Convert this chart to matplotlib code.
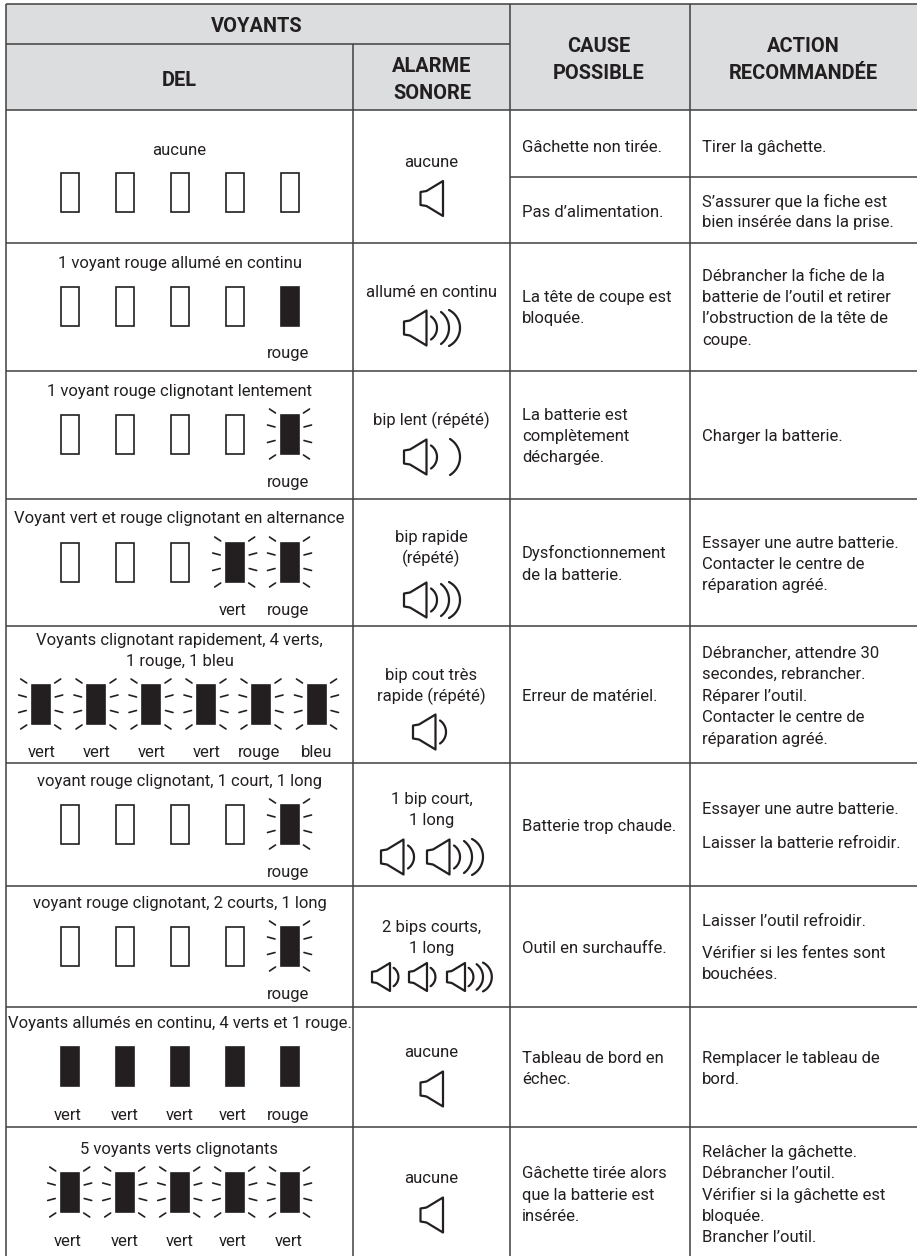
import matplotlib
matplotlib.use("Agg")
import matplotlib.pyplot as plt
from matplotlib.patches import Rectangle, Polygon
import numpy as np

FW, FH = 917, 1256
INK = "#231f20"
GRID = "#404040"
HEAD = "#dcdddf"
FONT = "Roboto"
BODY = 12.0
TITLE = 14.4

# ---- content ----
led_titles = [["aucune"],
              ["1 voyant rouge allumé en continu"],
              ["1 voyant rouge clignotant lentement"],
              ["Voyant vert et rouge clignotant en alternance"],
              ["Voyants clignotant rapidement, 4 verts,", "1 rouge, 1 bleu"],
              ["voyant rouge clignotant, 1 court, 1 long"],
              ["voyant rouge clignotant, 2 courts, 1 long"],
              ["Voyants allumés en continu, 4 verts et 1 rouge."],
              ["5 voyants verts clignotants"]]
led_states = ["ooooo", "ooooS", "ooooB", "oooBB", "BBBBBB", "ooooB", "ooooB", "SSSSS", "BBBBB"]
led_labels = [["", "", "", "", ""],
              ["", "", "", "", "rouge"],
              ["", "", "", "", "rouge"],
              ["", "", "", "vert", "rouge"],
              ["vert", "vert", "vert", "vert", "rouge", "bleu"],
              ["", "", "", "", "rouge"],
              ["", "", "", "", "rouge"],
              ["vert", "vert", "vert", "vert", "rouge"],
              ["vert", "vert", "vert", "vert", "vert"]]
alarm_texts = [["aucune"], ["allumé en continu"], ["bip lent (répété)"],
               ["bip rapide", "(répété)"], ["bip cout très", "rapide (répété)"],
               ["1 bip court,", "1 long"], ["2 bips courts,", "1 long"], ["aucune"], ["aucune"]]
alarm_waves = [[0], [3], [-2], [3], [1], [1, 3], [1, 1, 3], [0], [0]]
causes = [["Gâchette non tirée."], ["Pas d’alimentation."],
          ["La tête de coupe est", "bloquée."],
          ["La batterie est", "complètement", "déchargée."],
          ["Dysfonctionnement", "de la batterie."],
          ["Erreur de matériel."], ["Batterie trop chaude."], ["Outil en surchauffe."],
          ["Tableau de bord en", "échec."],
          ["Gâchette tirée alors", "que la batterie est", "insérée."]]
actions = [["Tirer la gâchette."],
           ["S’assurer que la fiche est", "bien insérée dans la prise."],
           ["Débrancher la fiche de la", "batterie de l’outil et retirer", "l’obstruction de la tête de", "coupe."],
           ["Charger la batterie."],
           ["Essayer une autre batterie.", "Contacter le centre de", "réparation agréé."],
           ["Débrancher, attendre 30", "secondes, rebrancher.", "Réparer l’outil.", "Contacter le centre de", "réparation agréé."],
           ["Essayer une autre batterie.", "Laisser la batterie refroidir."],
           ["Laisser l’outil refroidir.", "Vérifier si les fentes sont", "bouchées."],
           ["Remplacer le tableau de", "bord."],
           ["Relâcher la gâchette.", "Débrancher l’outil.", "Vérifier si la gâchette est", "bloquée.", "Brancher l’outil."]]

# ---- layout (pixels) ----
X = [5.5, 353, 510, 689.5, 917]
Y_TOP, Y_MID, Y_HB = 4, 43.5, 110
Y_ROW = [110, 242.5, 371, 498.7, 626, 763, 886, 1007, 1127]
Y_SPLIT = 177
LINE_END = 1256
led_cy = [192, 306, 434, 562, 704, 824, 946, 1066, 1192]
title_y = [150, 263, 391, 518, 640, 781, 903, 1023, 1149]
label_y = [0, 353, 482, 610, 752, 872, 994, 1115, 1241]
alarm_text_y = [162, 292, 420, 537, 675, 799, 927, 1052, 1178]
spk_y = [198.5, 328, 457, 600, 732, 857, 977, 1089, 1215]
spk_x = [[420.5], [404], [404], [404], [413], [381, 427], [372, 409, 447], [420.5], [420.5]]
spk_scale = [1, 1, 1, 1, 1, 1, 0.8, 1, 1]
LED_X5 = [69.7, 124.7, 179.7, 234.7, 289.5]
LED_X6 = [40.7, 96, 151, 206, 261, 316.5]
LAB_X5 = [68, 125, 180, 233, 288.5]
LAB_X6 = [41.7, 96.7, 151.7, 206.7, 259, 317]
LH = 21
cause_ys = [[147], [212], [297, 318], [415, 436, 457], [553, 575], [696], [826], [948], [1058, 1079], [1173, 1195, 1216]]
action_ys = [[147], [202, 222], [276, 297, 318, 340], [436], [543, 564, 585], [653, 674, 696, 717, 739],
             [809, 843], [921, 953, 974], [1058, 1079], [1152, 1173, 1195, 1216, 1237]]

fig = plt.figure(figsize=(FW / 100, FH / 100), dpi=100)
ax = fig.add_axes([0, 0, 1, 1])
ax.set_xlim(0, FW)
ax.set_ylim(FH, 0)
ax.axis("off")


def T(x, y, s, ha="center", size=BODY, base=5, **kw):
    ax.text(x, y + base, s, ha=ha, va="baseline", fontsize=size, color=INK, family=FONT, **kw)


def H(x, y, s):
    T(x, y, s, size=TITLE, base=7, weight="bold")


def L(xs, ys, lw=1.1, color=GRID):
    ax.plot(xs, ys, color=color, lw=lw, solid_capstyle="butt")


ax.add_patch(Rectangle((X[0], Y_TOP), X[4] - X[0], Y_HB - Y_TOP, fc=HEAD, ec="none", zorder=0))

for y in [Y_TOP] + Y_ROW:
    L([X[0], X[4]], [y, y])
L([X[0], X[2]], [Y_MID, Y_MID])
L([X[2], X[4]], [Y_SPLIT, Y_SPLIT])
for x in [X[0], X[2], X[3]]:
    L([x, x], [Y_TOP, LINE_END])
L([X[1], X[1]], [Y_MID, LINE_END])

H(257, 24.5, "VOYANTS")
H(179, 79, "DEL")
H(432, 65, "ALARME")
H(432, 92, "SONORE")
H(599, 45, "CAUSE")
H(599, 72, "POSSIBLE")
H(803, 45, "ACTION")
H(803, 72, "RECOMMANDÉE")

TICKS = [(14, -21, 20, -25), (14.5, -7, 22, -9), (14.5, 6.5, 22, 8.5), (14, 21, 20, 25)]


def led(cx, cy, state):
    w, h = 18, 39
    fc = "white" if state == "o" else INK
    ax.add_patch(Rectangle((cx - w / 2, cy - h / 2), w, h, fc=fc, ec=INK, lw=1.2))
    if state == "B":
        for s in (-1, 1):
            for x0, y0, x1, y1 in TICKS:
                ax.plot([cx + s * x0, cx + s * x1], [cy + y0, cy + y1], color=INK, lw=1.2,
                        solid_capstyle="round")


WAVES = {1: [(27, 33, 11.5)], 3: [(27, 33, 11.5), (37, 45, 16), (45, 56, 18)],
         -2: [(27, 33, 11.5), (46, 56, 18)]}


def speaker(x, cy, waves, s=1.0):
    pts = [(x, cy - 6.5 * s), (x + 6 * s, cy - 7.5 * s), (x + 22.5 * s, cy - 17.5 * s),
           (x + 22.5 * s, cy + 17.5 * s), (x + 6 * s, cy + 7.5 * s), (x, cy + 6.5 * s)]
    ax.add_patch(Polygon(pts, closed=True, fc="none", ec=INK, lw=1.6, joinstyle="round"))
    for e, a, hh in WAVES.get(waves, []):
        sag = (a - e) * s
        hs = hh * s
        r = (hs ** 2 + sag ** 2) / (2 * sag)
        ang = np.arcsin(min(1, hs / r))
        t = np.linspace(-ang, ang, 40)
        ax.plot(x + a * s - r + r * np.cos(t), cy + r * np.sin(t), color=INK, lw=1.6,
                solid_capstyle="round")


for i in range(9):
    for j, line in enumerate(led_titles[i]):
        T(179.5, title_y[i] + j * LH, line)
    six = len(led_states[i]) == 6
    xs = LED_X6 if six else LED_X5
    lx = LAB_X6 if six else LAB_X5
    for cx, st, lab, tx in zip(xs, led_states[i], led_labels[i], lx):
        led(cx, led_cy[i], st)
        if lab:
            T(tx, label_y[i], lab)
    for j, line in enumerate(alarm_texts[i]):
        T(431.5, alarm_text_y[i] + j * LH, line)
    for sx, w in zip(spk_x[i], alarm_waves[i]):
        speaker(sx, spk_y[i], w, spk_scale[i])

for lines, ys in zip(causes, cause_ys):
    for line, y in zip(lines, ys):
        T(522, y, line, ha="left")
for lines, ys in zip(actions, action_ys):
    for line, y in zip(lines, ys):
        T(702, y, line, ha="left")

fig.savefig("out.png", dpi=100)
